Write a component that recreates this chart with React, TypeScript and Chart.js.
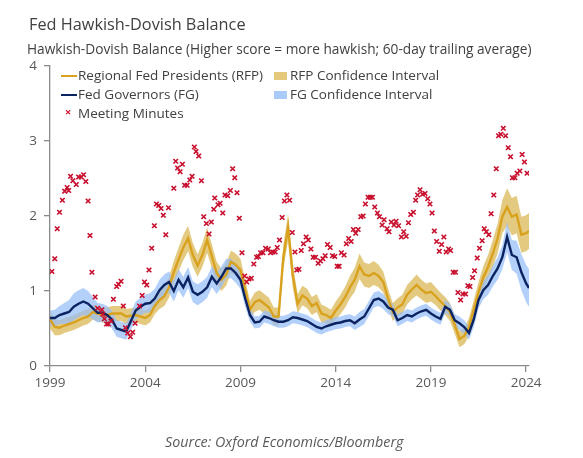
import React, { useEffect, useRef } from "react";
import { Chart, registerables } from "chart.js";

Chart.register(...registerables);

// Quarterly sampling from 1999 (last point clipped at the end of the series)
const startYear = 1999;
const step = 0.25;
const endYear = 2024.15;

const rfpValues = [
  0.62, 0.52, 0.51, 0.54, // 1999
  0.56, 0.58, 0.61, 0.64, // 2000
  0.66, 0.72, 0.70, 0.68, // 2001
  0.68, 0.70, 0.70, 0.70, // 2002
  0.66, 0.67, 0.68, 0.66, // 2003
  0.64, 0.68, 0.80, 0.88, // 2004
  0.93, 1.05, 1.25, 1.42, // 2005
  1.58, 1.70, 1.48, 1.34, // 2006
  1.48, 1.68, 1.46, 1.24, // 2007
  1.15, 1.22, 1.39, 1.35, // 2008
  1.28, 1.01, 0.75, 0.85, // 2009
  0.88, 0.83, 0.78, 0.66, // 2010
  0.66, 1.45, 1.85, 1.20, // 2011
  0.83, 0.94, 0.90, 0.80, // 2012
  0.84, 0.70, 0.68, 0.64, // 2013
  0.74, 0.82, 0.92, 1.05, // 2014
  1.15, 1.33, 1.22, 1.20, // 2015
  1.24, 1.20, 1.12, 0.90, // 2016
  0.72, 0.78, 0.82, 0.95, // 2017
  1.02, 1.08, 1.02, 0.97, // 2018
  0.99, 0.93, 0.86, 0.80, // 2019
  0.72, 0.55, 0.36, 0.40, // 2020
  0.52, 0.75, 0.98, 1.18, // 2021
  1.32, 1.50, 1.70, 1.99, // 2022
  2.12, 1.99, 2.02, 1.75, // 2023
  1.77, 1.80,             // 2024
];

const rfpHalfWidth = [
  0.12, 0.11, 0.10, 0.10,
  0.10, 0.10, 0.10, 0.10,
  0.10, 0.10, 0.10, 0.10,
  0.10, 0.10, 0.10, 0.10,
  0.10, 0.10, 0.10, 0.10,
  0.10, 0.10, 0.11, 0.12,
  0.13, 0.14, 0.15, 0.16,
  0.17, 0.17, 0.16, 0.15,
  0.16, 0.17, 0.16, 0.15,
  0.15, 0.15, 0.15, 0.15,
  0.15, 0.14, 0.12, 0.13,
  0.13, 0.13, 0.13, 0.12,
  0.12, 0.16, 0.18, 0.16,
  0.13, 0.13, 0.13, 0.12,
  0.12, 0.12, 0.11, 0.11,
  0.12, 0.13, 0.14, 0.15,
  0.16, 0.17, 0.16, 0.16,
  0.16, 0.15, 0.14, 0.13,
  0.12, 0.12, 0.13, 0.13,
  0.13, 0.14, 0.13, 0.13,
  0.13, 0.12, 0.12, 0.12,
  0.12, 0.12, 0.11, 0.11,
  0.12, 0.13, 0.14, 0.15,
  0.16, 0.18, 0.20, 0.22,
  0.25, 0.25, 0.25, 0.24,
  0.24, 0.24,
];

const fgValues = [
  0.64, 0.64, 0.68, 0.70, // 1999
  0.72, 0.79, 0.83, 0.86, // 2000
  0.83, 0.77, 0.71, 0.71, // 2001
  0.68, 0.62, 0.50, 0.48, // 2002
  0.46, 0.60, 0.74, 0.79, // 2003
  0.83, 0.84, 0.90, 1.01, // 2004
  1.08, 1.12, 1.00, 1.15, // 2005
  1.05, 1.18, 0.99, 0.95, // 2006
  0.99, 1.05, 1.19, 1.10, // 2007
  1.19, 1.30, 1.30, 1.24, // 2008
  1.15, 0.90, 0.68, 0.58, // 2009
  0.59, 0.66, 0.64, 0.61, // 2010
  0.59, 0.59, 0.61, 0.65, // 2011
  0.64, 0.62, 0.60, 0.56, // 2012
  0.52, 0.50, 0.53, 0.55, // 2013
  0.57, 0.58, 0.60, 0.61, // 2014
  0.57, 0.62, 0.66, 0.77, // 2015
  0.88, 0.90, 0.86, 0.78, // 2016
  0.75, 0.61, 0.64, 0.68, // 2017
  0.66, 0.70, 0.73, 0.75, // 2018
  0.70, 0.66, 0.63, 0.79, // 2019
  0.75, 0.61, 0.57, 0.52, // 2020
  0.44, 0.62, 0.88, 1.01, // 2021
  1.08, 1.20, 1.30, 1.45, // 2022
  1.72, 1.48, 1.45, 1.25, // 2023
  1.10, 1.04,             // 2024
];

const fgHalfWidth = [
  0.10, 0.11, 0.12, 0.14,
  0.16, 0.18, 0.18, 0.18,
  0.17, 0.15, 0.13, 0.12,
  0.12, 0.12, 0.11, 0.11,
  0.11, 0.12, 0.12, 0.12,
  0.12, 0.13, 0.13, 0.14,
  0.14, 0.14, 0.14, 0.14,
  0.14, 0.14, 0.14, 0.14,
  0.14, 0.14, 0.14, 0.14,
  0.14, 0.13, 0.13, 0.13,
  0.12, 0.11, 0.09, 0.08,
  0.08, 0.08, 0.08, 0.08,
  0.08, 0.08, 0.08, 0.08,
  0.08, 0.08, 0.08, 0.08,
  0.08, 0.08, 0.08, 0.08,
  0.08, 0.08, 0.08, 0.08,
  0.09, 0.10, 0.10, 0.10,
  0.10, 0.10, 0.10, 0.09,
  0.08, 0.08, 0.08, 0.08,
  0.08, 0.08, 0.08, 0.08,
  0.08, 0.08, 0.08, 0.09,
  0.08, 0.08, 0.09, 0.09,
  0.09, 0.10, 0.11, 0.12,
  0.13, 0.14, 0.15, 0.16,
  0.20, 0.20, 0.22, 0.24,
  0.25, 0.25,
];

const minutesDates = [
  1999.1, 1999.25, 1999.38, 1999.5, 1999.65, 1999.77, 1999.9, 1999.98,
  2000.08, 2000.2, 2000.38, 2000.5, 2000.64, 2000.76, 2000.88,
  2001.0, 2001.1, 2001.2, 2001.37, 2001.5, 2001.72, 2001.77, 2001.86, 2001.97,
  2002.07, 2002.2, 2002.33, 2002.5, 2002.6, 2002.73, 2002.85, 2002.96,
  2003.08, 2003.22, 2003.34, 2003.47, 2003.7, 2003.84, 2003.96,
  2004.08, 2004.2, 2004.34, 2004.48, 2004.59, 2004.71, 2004.83, 2004.95,
  2005.08, 2005.22, 2005.5, 2005.6, 2005.7, 2005.83, 2005.95,
  2006.07, 2006.2, 2006.34, 2006.46, 2006.58, 2006.67, 2006.81, 2006.95,
  2007.07, 2007.21, 2007.35, 2007.47, 2007.6, 2007.65, 2007.82, 2007.93,
  2008.07, 2008.19, 2008.33, 2008.47, 2008.59, 2008.7, 2008.82, 2008.94,
  2009.08, 2009.22, 2009.33, 2009.45, 2009.57, 2009.7, 2009.85, 2009.94,
  2010.06, 2010.18, 2010.32, 2010.46, 2010.58, 2010.7, 2010.82, 2010.93,
  2011.05, 2011.19, 2011.31, 2011.44, 2011.58, 2011.72, 2011.86, 2011.96,
  2012.07, 2012.19, 2012.31, 2012.45, 2012.56, 2012.7, 2012.82, 2012.94,
  2013.08, 2013.2, 2013.33, 2013.45, 2013.57, 2013.71, 2013.83, 2013.95,
  2014.08, 2014.18, 2014.3, 2014.44, 2014.56, 2014.68, 2014.81, 2014.93,
  2015.05, 2015.18, 2015.32, 2015.44, 2015.56, 2015.7, 2015.82, 2015.93,
  2016.05, 2016.19, 2016.3, 2016.44, 2016.54, 2016.7, 2016.8, 2016.92,
  2017.06, 2017.17, 2017.3, 2017.45, 2017.57, 2017.7, 2017.82, 2017.94,
  2018.08, 2018.2, 2018.3, 2018.43, 2018.56, 2018.69, 2018.83, 2018.95,
  2019.06, 2019.18, 2019.3, 2019.44, 2019.56, 2019.68, 2019.8, 2019.93,
  2020.03, 2020.17, 2020.29, 2020.42, 2020.56, 2020.68, 2020.82, 2020.94,
  2021.05, 2021.19, 2021.29, 2021.43, 2021.55, 2021.69, 2021.8, 2021.91,
  2022.04, 2022.16, 2022.3, 2022.43, 2022.55, 2022.67, 2022.8, 2022.92,
  2023.06, 2023.18, 2023.28, 2023.41, 2023.53, 2023.67, 2023.79, 2023.91,
  2024.05,
];

const minutesValues = [
  1.26, 1.43, 1.83, 2.05, 2.21, 2.33, 2.38, 2.34,
  2.53, 2.47, 2.42, 2.52, 2.52, 2.55, 2.46,
  2.2, 1.74, 1.25, 0.92, 0.77, 0.75, 0.69, 0.63, 0.56,
  0.56, 0.6, 0.89, 1.06, 1.09, 1.13, 0.8, 0.51,
  0.44, 0.39, 0.45, 0.57, 0.8, 0.94, 1.12,
  1.08, 1.28, 1.57, 1.87, 2.16, 2.14, 2.1, 2.01,
  1.75, 2.11, 2.37, 2.73, 2.64, 2.59, 2.69,
  2.41, 2.41, 2.48, 2.53, 2.92, 2.86, 2.8, 2.47,
  1.99, 1.9, 1.76, 1.92, 2.09, 2.24, 2.15, 2.17,
  2.04, 2.28, 2.27, 2.34, 2.63, 2.51, 2.31, 1.97,
  1.51, 1.2, 1.12, 1.16, 1.17, 1.36, 1.45, 1.46,
  1.51, 1.51, 1.57, 1.56, 1.51, 1.52, 1.52, 1.58,
  1.68, 1.98, 2.2, 2.28, 2.21, 1.78, 1.52, 1.28,
  1.29, 1.54, 1.63, 1.72, 1.68, 1.56, 1.45, 1.45,
  1.37, 1.4, 1.43, 1.47, 1.62, 1.58, 1.47, 1.46,
  1.33, 1.33, 1.51, 1.48, 1.63, 1.7, 1.66, 1.82,
  1.77, 1.82, 1.99, 2.0, 2.16, 2.25, 2.25, 2.25,
  2.12, 2.04, 1.99, 1.88, 1.95, 1.83, 1.79, 1.92,
  1.88, 1.93, 1.87, 1.72, 1.79, 1.73, 1.91, 2.02,
  2.05, 2.21, 2.28, 2.35, 2.29, 2.3, 2.23, 2.16,
  2.04, 1.8, 1.66, 1.53, 1.62, 1.72, 1.52, 1.56,
  1.54, 1.25, 1.25, 0.98, 0.88, 0.96, 0.96, 1.07,
  1.06, 1.18, 1.27, 1.44, 1.57, 1.67, 1.83, 1.79,
  1.75, 2.03, 2.28, 2.63, 3.07, 3.09, 3.17, 3.07,
  2.91, 2.79, 2.51, 2.51, 2.57, 2.6, 2.82, 2.72,
  2.57,
];

const yearTicks = [1999, 2004, 2009, 2014, 2019, 2024];
const valueTicks = [0, 1, 2, 3, 4];

const FONT = "'Open Sans', 'Noto Sans', sans-serif";
const GOLD = "#D9A21E";
const NAVY = "#0B2461";
const RED = "#C8102E";
const GOLD_BAND = "rgba(218,182,80,0.72)";
const BLUE_BAND = "rgba(150,190,250,0.72)";
const AXIS = "#8a8a8a";
const TEXT = "#404040";
const TICK_TEXT = "#595959";

export default function App() {
  const ref = useRef<HTMLCanvasElement>(null);

  useEffect(() => {
    document.body.style.margin = "0";
    const dates = rfpValues.map((_, i) => Math.min(startYear + i * step, endYear));
    const pts = (vals: number[]) => vals.map((v, i) => ({ x: dates[i], y: v }));
    const lineBase = { pointRadius: 0, pointHoverRadius: 0, tension: 0 };

    const chart = new Chart(ref.current as HTMLCanvasElement, {
      type: "line",
      data: {
        datasets: [
          {
            type: "scatter",
            label: "Meeting Minutes",
            data: minutesDates.map((d, i) => ({ x: d, y: minutesValues[i] })),
            pointStyle: "crossRot",
            pointRadius: 3.2,
            borderColor: RED,
            backgroundColor: RED,
            borderWidth: 1.7,
            order: 0,
          } as any,
          {
            label: "Fed Governors (FG)",
            data: pts(fgValues),
            borderColor: NAVY,
            borderWidth: 2.4,
            fill: false,
            order: 1,
            ...lineBase,
          },
          {
            label: "Regional Fed Presidents (RFP)",
            data: pts(rfpValues),
            borderColor: GOLD,
            borderWidth: 2.4,
            fill: false,
            order: 2,
            ...lineBase,
          },
          {
            label: "FG Confidence Interval",
            data: pts(fgValues.map((v, i) => v + fgHalfWidth[i])),
            borderColor: "transparent",
            borderWidth: 0,
            backgroundColor: BLUE_BAND,
            fill: "+1",
            order: 3,
            ...lineBase,
          },
          {
            label: "FG lower",
            data: pts(fgValues.map((v, i) => v - fgHalfWidth[i])),
            borderColor: "transparent",
            borderWidth: 0,
            fill: false,
            order: 3,
            ...lineBase,
          },
          {
            label: "RFP Confidence Interval",
            data: pts(rfpValues.map((v, i) => v + rfpHalfWidth[i])),
            borderColor: "transparent",
            borderWidth: 0,
            backgroundColor: GOLD_BAND,
            fill: "+1",
            order: 4,
            ...lineBase,
          },
          {
            label: "RFP lower",
            data: pts(rfpValues.map((v, i) => v - rfpHalfWidth[i])),
            borderColor: "transparent",
            borderWidth: 0,
            fill: false,
            order: 4,
            ...lineBase,
          },
        ],
      },
      options: {
        responsive: false,
        animation: false,
        devicePixelRatio: 1,
        layout: { padding: { top: 66, right: 54, left: 0, bottom: 0 } },
        plugins: {
          legend: { display: false },
          tooltip: { enabled: false },
          title: { display: false },
        },
        scales: {
          x: {
            type: "linear",
            min: startYear,
            max: endYear,
            border: { color: AXIS, width: 1.3 },
            grid: { drawOnChartArea: false, drawTicks: true, tickLength: 6, color: AXIS, lineWidth: 1.3 },
            ticks: {
              color: TICK_TEXT,
              font: { family: FONT, size: 13.5 },
              padding: 3,
              maxRotation: 0,
              autoSkip: false,
              callback: (v: any) => String(v),
            },
            afterBuildTicks: (s: any) => {
              s.ticks = yearTicks.map((v) => ({ value: v }));
            },
            afterFit: (s: any) => {
              s.height = 92;
            },
          },
          y: {
            type: "linear",
            min: 0,
            max: 4,
            border: { color: AXIS, width: 1.3 },
            grid: { drawOnChartArea: false, drawTicks: true, tickLength: 6, color: AXIS, lineWidth: 1.3 },
            ticks: {
              color: TICK_TEXT,
              font: { family: FONT, size: 13.5 },
              padding: 7,
              stepSize: 1,
            },
            afterBuildTicks: (s: any) => {
              s.ticks = valueTicks.map((v) => ({ value: v }));
            },
            afterFit: (s: any) => {
              s.width = 50;
            },
          },
        },
      },
    });
    return () => chart.destroy();
  }, []);

  const legendText: React.CSSProperties = {
    position: "absolute",
    fontFamily: FONT,
    fontSize: 13.5,
    color: TEXT,
    whiteSpace: "nowrap",
    lineHeight: "16px",
  };
  const lineSwatch = (color: string, top: number): React.CSSProperties => ({
    position: "absolute",
    left: 61,
    top,
    width: 16,
    height: 2,
    background: color,
  });
  const boxSwatch = (color: string, top: number): React.CSSProperties => ({
    position: "absolute",
    left: 274,
    top,
    width: 13,
    height: 8,
    background: color,
  });

  return (
    <div style={{ position: "relative", width: 583, height: 458, background: "#fff", overflow: "hidden" }}>
      <canvas ref={ref} width={583} height={458} style={{ position: "absolute", left: 0, top: 0, width: 583, height: 458 }} />
      <div style={{ position: "absolute", left: 29, top: 13, fontFamily: FONT, fontSize: 16.3, color: TEXT, whiteSpace: "nowrap" }}>
        Fed Hawkish-Dovish Balance
      </div>
      <div style={{ position: "absolute", left: 27, top: 39, fontFamily: FONT, fontSize: 13.7, color: TEXT, whiteSpace: "nowrap" }}>
        Hawkish-Dovish Balance (Higher score = more hawkish; 60-day trailing average)
      </div>

      <div style={lineSwatch(GOLD, 75)} />
      <div style={{ ...legendText, left: 78, top: 67 }}>Regional Fed Presidents (RFP)</div>
      <div style={boxSwatch("rgb(228,201,125)", 72)} />
      <div style={{ ...legendText, left: 290, top: 67 }}>RFP Confidence Interval</div>

      <div style={lineSwatch(NAVY, 94)} />
      <div style={{ ...legendText, left: 78, top: 86 }}>Fed Governors (FG)</div>
      <div style={boxSwatch("rgb(170,202,250)", 91)} />
      <div style={{ ...legendText, left: 290, top: 86 }}>FG Confidence Interval</div>

      <div style={{ ...legendText, left: 65, top: 104, color: RED, fontSize: 11, fontWeight: 700 }}>×</div>
      <div style={{ ...legendText, left: 78, top: 105 }}>Meeting Minutes</div>

      <div style={{ position: "absolute", left: 165, top: 432, fontFamily: FONT, fontSize: 14.3, fontStyle: "italic", color: TICK_TEXT, whiteSpace: "nowrap" }}>
        Source: Oxford Economics/Bloomberg
      </div>
    </div>
  );
}
